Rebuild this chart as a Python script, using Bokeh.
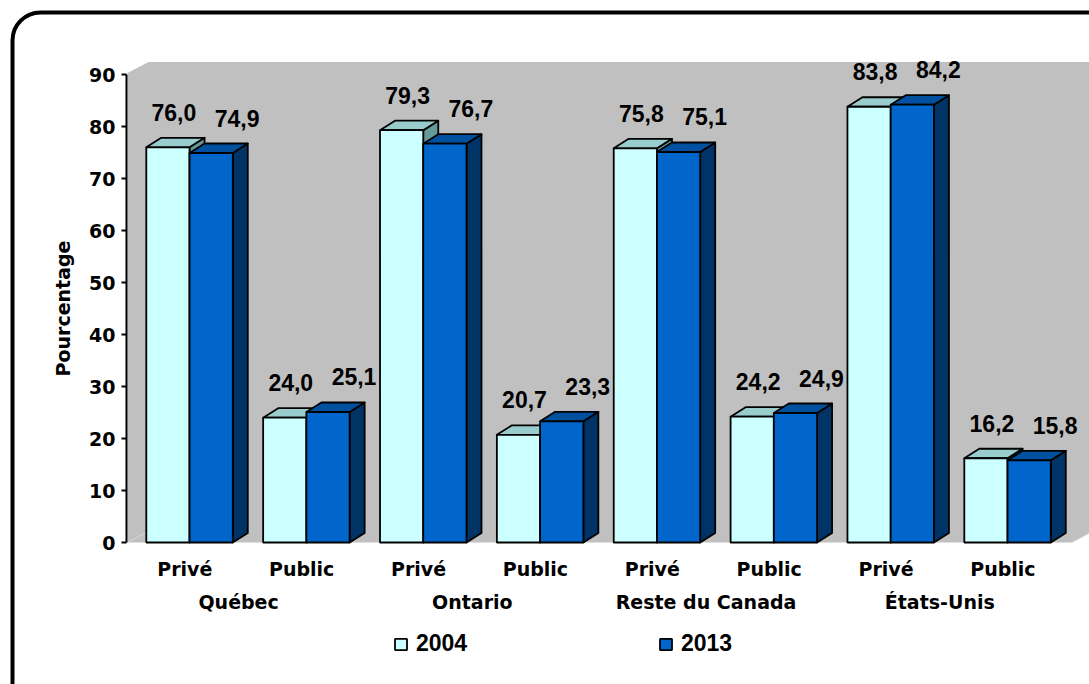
from bokeh.plotting import figure
from bokeh.models import Range1d, BoxAnnotation, Legend, LegendItem
from bokeh.core.properties import value
from bokeh.embed import file_html
from bokeh.resources import INLINE
import math

# ---------------- data ----------------
groups = ["Québec", "Ontario", "Reste du Canada", "États-Unis"]
sectors = ["Privé", "Public"]
years = ["2004", "2013"]
v2004 = [76.0, 24.0, 79.3, 20.7, 75.8, 24.2, 83.8, 16.2]
v2013 = [74.9, 25.1, 76.7, 23.3, 75.1, 24.9, 84.2, 15.8]
y_ticks = [0, 10, 20, 30, 40, 50, 60, 70, 80, 90]
y_tick_labels = [str(t) for t in y_ticks]
y_title = "Pourcentage"

# ---------------- geometry / style ----------------
W, H = 1089, 684
PX_X, X0PX = 116.86, 130.6      # pixels per category unit, pixel of x=0
PX_Y, Y0PX = 5.2, 542.0         # pixels per percent, pixel of y=0

def ux(px):
    return px / PX_X

def uy(px):
    return px / PX_Y

x_start, x_end = -X0PX / PX_X, (W - X0PX) / PX_X
y_start, y_end = -(H - Y0PX) / PX_Y, Y0PX / PX_Y

p = figure(width=W, height=H, x_range=Range1d(x_start, x_end), y_range=Range1d(y_start, y_end),
           output_backend="svg", toolbar_location=None, x_axis_type=None, y_axis_type=None,
           min_border=0, min_border_left=0, min_border_right=0, min_border_top=0, min_border_bottom=0)
p.outline_line_color = None
p.background_fill_color = "white"
p.border_fill_color = "white"

ncat = len(v2004)
y_max = y_ticks[-1]

# back wall + side wall + floor (gray)
xa_axis = ux(126 - X0PX)
xa = ux(127 - X0PX)
DXW, DYW = ux(21), uy(11)
wall_top = y_max + 0.3
xe = ncat + 0.05
p.patch([xa, xa, xa + DXW, x_end + 0.5, x_end + 0.5, xe + DXW, xe],
        [0, wall_top, wall_top + DYW, wall_top + DYW, DYW, DYW, 0],
        fill_color="#C0C0C0", line_color=None)
p.line([xa, xa + DXW], [0, DYW], line_color="#DADADA", line_width=1)
p.line([xe, xe + DXW], [0, DYW], line_color="#DADADA", line_width=1)

# 3D bars
BW = 0.37
DX, DY = ux(15), uy(9.5)
series = [
    (v2004, "#CCFFFF", "#99CCCC", "#669999"),
    (v2013, "#0066CC", "#0050A0", "#003366"),
]
front_renderers = []
for k, (vals, c_front, c_top, c_side) in enumerate(series):
    lefts = [i + 0.5 - BW + k * BW for i in range(ncat)]
    rights = [l + BW for l in lefts]
    side_xs = [[r, r, r + DX, r + DX] for r in rights]
    side_ys = [[0, v, v + DY, DY] for v in vals]
    top_xs = [[l, r, r + DX, l + DX] for l, r in zip(lefts, rights)]
    top_ys = [[v, v, v + DY, v + DY] for v in vals]
    p.patches(side_xs, side_ys, fill_color=c_side, line_color="black", line_width=1.8, line_join="round")
    p.patches(top_xs, top_ys, fill_color=c_top, line_color="black", line_width=1.8, line_join="round")
    r = p.quad(left=lefts, right=rights, bottom=0, top=vals, fill_color=c_front,
               line_color="black", line_width=1.8)
    front_renderers.append(r)

    # value labels
    labels = [f"{v:.1f}".replace(".", ",") for v in vals]
    centers = [(l + rr) / 2 for l, rr in zip(lefts, rights)]
    p.text(x=centers, y=vals, text=labels, x_offset=6 if k == 0 else 26, y_offset=-35,
           text_align="center", text_baseline="middle",
           text_font=value("Liberation Sans"), text_font_style="bold",
           text_font_size="23px", text_color="black")

# y axis (drawn by hand at the front-left edge)
p.segment(x0=[xa_axis], y0=[0], x1=[xa_axis], y1=[y_max], line_color="black", line_width=2)
p.segment(x0=[xa_axis - ux(5)] * len(y_ticks), y0=y_ticks, x1=[xa_axis] * len(y_ticks), y1=y_ticks,
          line_color="black", line_width=2)
p.text(x=[xa_axis] * len(y_ticks), y=y_ticks, text=y_tick_labels, x_offset=-11,
       text_align="right", text_baseline="middle",
       text_font=value("DejaVu Sans"), text_font_style="bold", text_font_size="19px", text_color="black")
p.text(x=[ux(62 - X0PX)], y=[y_max / 2], text=[y_title], angle=math.pi / 2,
       text_align="center", text_baseline="middle",
       text_font=value("DejaVu Sans"), text_font_style="bold", text_font_size="19px", text_color="black")

# category labels
cat_x = [i + 0.5 - 0.04 for i in range(ncat)]
cat_txt = [sectors[i % 2] for i in range(ncat)]
p.text(x=cat_x, y=[0] * ncat, text=cat_txt, y_offset=26,
       text_align="center", text_baseline="middle",
       text_font=value("DejaVu Sans"), text_font_style="bold", text_font_size="19px", text_color="black")
grp_x = [2 * g + 1 - 0.08 for g in range(len(groups))]
p.text(x=grp_x, y=[0] * len(groups), text=groups, y_offset=59,
       text_align="center", text_baseline="middle",
       text_font=value("DejaVu Sans"), text_font_style="bold", text_font_size="19px", text_color="black")

# legends
for yr, rend, lx in zip(years, front_renderers, [393, 658]):
    leg = Legend(items=[LegendItem(label=yr, renderers=[rend])], location=(lx, 27),
                 orientation="horizontal", glyph_width=15, glyph_height=14, label_standoff=8,
                 padding=0, margin=0, border_line_color=None, background_fill_alpha=0,
                 label_text_font="Liberation Sans", label_text_font_style="bold",
                 label_text_font_size="23px", label_text_color="black")
    p.add_layout(leg)

# rounded outer frame
p.add_layout(BoxAnnotation(left=ux(12 - X0PX), right=x_end + 2, top=uy(Y0PX - 12), bottom=y_start - 5,
                           fill_color=None, fill_alpha=0, line_color="black", line_alpha=1.0,
                           line_width=4, border_radius=28))

open("out.html", "w").write(file_html(p, INLINE))
